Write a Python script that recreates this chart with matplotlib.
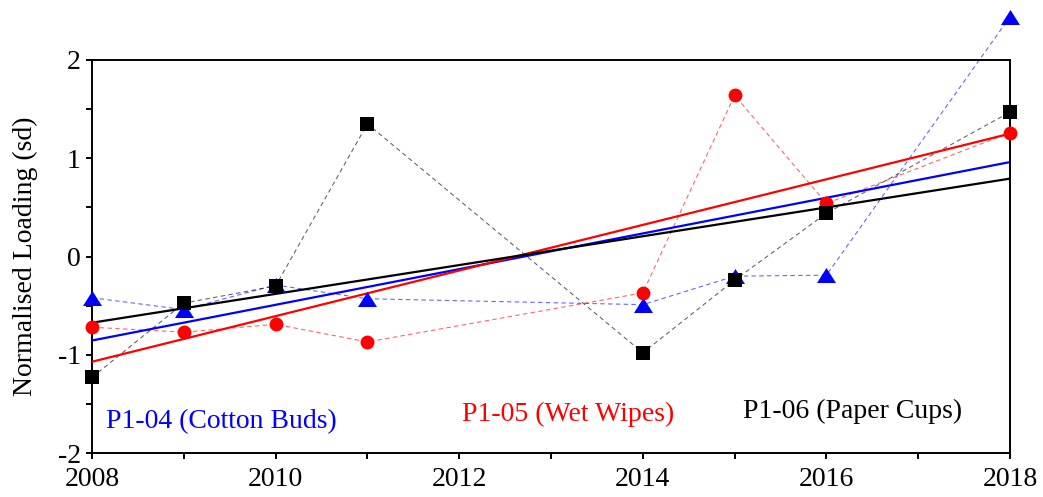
import numpy as np
import matplotlib
matplotlib.use("Agg")
import matplotlib.pyplot as plt
from matplotlib.ticker import MultipleLocator

years = [2008, 2009, 2010, 2011, 2014, 2015, 2016, 2018]
cotton_buds = [-0.42, -0.54, -0.29, -0.43, -0.49, -0.20, -0.19, 2.44]
wet_wipes = [-0.72, -0.77, -0.69, -0.87, -0.37, 1.64, 0.54, 1.26]
paper_cups = [-1.23, -0.475, -0.30, 1.35, -0.98, -0.24, 0.44, 1.47]

labels = ["P1-04 (Cotton Buds)", "P1-05 (Wet Wipes)", "P1-06 (Paper Cups)"]
colors = ["#0000ff", "#ff0000", "#000000"]

plt.rcParams['font.family'] = ['Liberation Serif', 'DejaVu Serif']
plt.rcParams['axes.unicode_minus'] = False

fig = plt.figure(figsize=(10.43, 4.97), dpi=100)
ax = fig.add_axes([0.0882, 0.0885, 0.8802, 0.7908])

tri = [(-1, -0.79), (1, -0.79), (0, 0.79)]
markers = [tri, 'o', 's']
msizes = [13.7, 10, 9.4]
series = [cotton_buds, wet_wipes, paper_cups]

x = np.array(years, dtype=float)
xfit = np.array([2008, 2018], dtype=float)
for ys, c in zip(series, colors):
    ax.plot(x, ys, linestyle=(0, (4, 3)), lw=0.8, color=c, alpha=0.6,
            clip_on=False, zorder=2)
for ys, c in zip(series, colors):
    k, b = np.polyfit(x, ys, 1)
    ax.plot(xfit, k * xfit + b, '-', lw=1.6, color=c, zorder=3)
for ys, c, m, ms in zip(series, colors, markers, msizes):
    ax.plot(x, ys, linestyle='none', marker=m, markersize=ms, color=c,
            markeredgewidth=0, clip_on=False, zorder=4)

ax.text(2008.15, -1.68, labels[0], color=colors[0], fontsize=20, va='center', ha='left')
ax.text(2012.03, -1.61, labels[1], color=colors[1], fontsize=20, va='center', ha='left')
ax.text(2015.09, -1.58, labels[2], color=colors[2], fontsize=20, va='center', ha='left')

ax.set_xlim(2008, 2018)
ax.set_ylim(-2, 2)
ax.xaxis.set_major_locator(MultipleLocator(2))
ax.xaxis.set_minor_locator(MultipleLocator(1))
ax.yaxis.set_major_locator(MultipleLocator(1))
ax.yaxis.set_minor_locator(MultipleLocator(0.5))
ax.tick_params(which='both', direction='out', length=4, width=1.4, labelsize=20,
               top=False, right=False)
ax.tick_params(axis='x', pad=6)
ax.tick_params(axis='y', pad=4)
for s in ax.spines.values():
    s.set_linewidth(1.4)
ax.set_ylabel("Normalised Loading (sd)", fontsize=20, labelpad=14)

fig.savefig("out.png", dpi=100)
